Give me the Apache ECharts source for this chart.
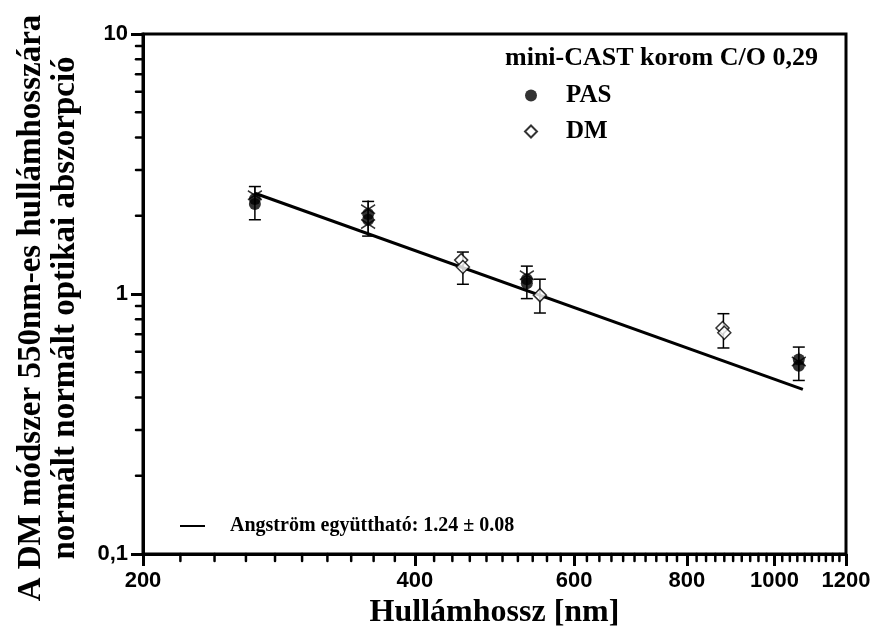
<!DOCTYPE html>
<html>
<head>
<meta charset="utf-8">
<script src="https://cdn.jsdelivr.net/npm/echarts@6/dist/echarts.min.js"></script>
<style>
  html, body { margin: 0; padding: 0; background: #ffffff; }
  #chart { width: 879px; height: 629px; }
</style>
</head>
<body>
<div id="chart"></div>
<script>
// Axis ranges and ticks (log scales)
const xRange = [200, 1200];
const yRange = [0.1, 10];
const xMajorTicks = [200, 400, 600, 800, 1000, 1200];
const xMinorTicks = [220, 240, 260, 280, 300, 320, 340, 360, 380,
                     420, 440, 460, 480, 500, 520, 540, 560, 580,
                     620, 640, 660, 680, 700, 720, 740, 760, 780,
                     820, 840, 860, 880, 900, 920, 940, 960, 980,
                     1020, 1040, 1060, 1080, 1100, 1120, 1140, 1160, 1180];
const yMajorTicks = [0.1, 1, 10];
const yMinorTicks = [0.2, 0.3, 0.4, 0.5, 0.6, 0.7, 0.8, 0.9,
                     2, 3, 4, 5, 6, 7, 8, 9];

// Photoacoustic (PAS) measurements: [wavelength nm, normalised absorption]
const pasPoints = [[266, 2.22], [266, 2.32], [355, 1.93], [355, 2.03],
                   [532, 1.10], [532, 1.14], [1064, 0.53], [1064, 0.56]];
// Repeated PAS runs (asterisk markers)
const pasRepeat = [[266, 2.40], [355, 2.12], [355, 1.86], [532, 1.18], [1064, 0.55]];
// PAS error bars: [wavelength, low, high]
const pasErrors = [[266, 1.93, 2.59], [355, 1.67, 2.27], [532, 0.96, 1.28], [1064, 0.465, 0.625]];

// DM measurements
const dmPoints = [[450, 1.35], [452, 1.27], [550, 0.99], [876, 0.74], [880, 0.71]];
const dmErrors = [[452, 1.09, 1.45], [550, 0.845, 1.14], [878, 0.62, 0.84]];

// Power-law fit (straight on log-log axes): end points
const fitLine = [[266, 2.44], [1075, 0.43]];

const seriesNames = { pas: 'PAS', dm: 'DM', fit: 'Angström együttható: 1.24 ± 0.08' };
const legendTitle = 'mini-CAST korom C/O 0,29';
const xTitle = 'Hullámhossz [nm]';
const yTitle = 'A DM módszer 550nm-es hullámhosszára\nnormált normált optikai abszorpció';

const serif = 'Liberation Serif';
const sans = 'Liberation Sans';

function errorBarItem(params, api) {
  const x = api.value(0);
  const lo = api.coord([x, api.value(1)]);
  const hi = api.coord([x, api.value(2)]);
  const half = 6;
  const style = { stroke: '#000', lineWidth: 1.5, fill: null };
  return {
    type: 'group',
    children: [
      { type: 'line', shape: { x1: lo[0], y1: lo[1], x2: hi[0], y2: hi[1] }, style: style },
      { type: 'line', shape: { x1: lo[0] - half, y1: lo[1], x2: lo[0] + half, y2: lo[1] }, style: style },
      { type: 'line', shape: { x1: hi[0] - half, y1: hi[1], x2: hi[0] + half, y2: hi[1] }, style: style }
    ]
  };
}

// Short minor ticks below the x axis and left of the y axis
const minorTickLen = 7;
function xMinorTickItem(params, api) {
  const p = api.coord([api.value(0), yRange[0]]);
  return { type: 'line', shape: { x1: p[0], y1: p[1], x2: p[0], y2: p[1] + minorTickLen },
           style: { stroke: '#000', lineWidth: 2.5, lineCap: 'round' } };
}
function yMinorTickItem(params, api) {
  const p = api.coord([xRange[0], api.value(1)]);
  return { type: 'line', shape: { x1: p[0] - minorTickLen, y1: p[1], x2: p[0], y2: p[1] },
           style: { stroke: '#000', lineWidth: 2.5, lineCap: 'round' } };
}

const asteriskPath = 'path://M0,-10L0,10M-8.66,-5L8.66,5M-8.66,5L8.66,-5';

const chart = echarts.init(document.getElementById('chart'), null, { renderer: 'canvas' });

const option = {
  backgroundColor: '#ffffff',
  animation: false,
  title: {
    text: legendTitle,
    left: 505,
    top: 45,
    padding: 0,
    textStyle: { fontFamily: serif, fontWeight: 'bold', fontSize: 26, color: '#000' }
  },
  legend: [
    {
      data: [seriesNames.pas, seriesNames.dm],
      orient: 'vertical',
      left: 524,
      top: 83,
      padding: 0,
      itemWidth: 12,
      itemHeight: 12,
      itemGap: 11,
      formatter: name => '{t|' + name + '}',
      textStyle: {
        fontFamily: serif, fontWeight: 'bold', fontSize: 25, color: '#000',
        rich: { t: { fontFamily: serif, fontWeight: 'bold', fontSize: 25, color: '#000', padding: [0, 0, 0, 24] } }
      }
    },
    {
      data: [{ name: seriesNames.fit, icon: 'rect' }],
      orient: 'horizontal',
      left: 180,
      top: 516,
      padding: 0,
      itemWidth: 25,
      itemHeight: 2,
      formatter: name => '{t|' + name + '}',
      textStyle: {
        fontFamily: serif, fontWeight: 'bold', fontSize: 20, color: '#000',
        rich: { t: { fontFamily: serif, fontWeight: 'bold', fontSize: 20, color: '#000', padding: [0, 0, 0, 20] } }
      }
    }
  ],
  grid: {
    left: 143, top: 34, width: 703, height: 520,
    outerBoundsMode: 'none',
    containLabel: false,
    show: true, borderColor: '#000', borderWidth: 3, backgroundColor: 'transparent'
  },
  xAxis: {
    type: 'log', logBase: 10, min: xRange[0], max: xRange[1], position: 'bottom',
    name: xTitle, nameLocation: 'middle', nameGap: 36,
    nameTextStyle: { fontFamily: serif, fontWeight: 'bold', fontSize: 32, color: '#000' },
    axisLine: { show: true, lineStyle: { color: '#000', width: 3 } },
    axisTick: { show: true, customValues: xMajorTicks, length: 12, inside: false, lineStyle: { color: '#000', width: 3 } },
    axisLabel: {
      show: true, customValues: xMajorTicks, margin: 16,
      fontFamily: sans, fontWeight: 'bold', fontSize: 22, color: '#000',
      formatter: v => String(v)
    },
    splitLine: { show: false }, minorTick: { show: false }
  },
  yAxis: {
    type: 'log', logBase: 10, min: yRange[0], max: yRange[1], position: 'left',
    name: yTitle, nameLocation: 'middle', nameRotate: 90, nameGap: 61,
    nameTextStyle: { fontFamily: serif, fontWeight: 'bold', fontSize: 33, lineHeight: 34, color: '#000', padding: [0, 28, 0, 0] },
    axisLine: { show: true, lineStyle: { color: '#000', width: 3 } },
    axisTick: { show: true, customValues: yMajorTicks, length: 12, inside: false, lineStyle: { color: '#000', width: 3 } },
    axisLabel: {
      show: true, customValues: yMajorTicks, margin: 15,
      fontFamily: sans, fontWeight: 'bold', fontSize: 22, color: '#000',
      formatter: v => String(v).replace('.', ',')
    },
    splitLine: { show: false }, minorTick: { show: false }
  },
  series: [
    {
      name: 'x minor ticks',
      type: 'custom',
      renderItem: xMinorTickItem,
      data: xMinorTicks.map(v => [v, yRange[0]]),
      encode: { x: 0, y: 1 },
      clip: false,
      silent: true,
      z: 10
    },
    {
      name: 'y minor ticks',
      type: 'custom',
      renderItem: yMinorTickItem,
      data: yMinorTicks.map(v => [xRange[0], v]),
      encode: { x: 0, y: 1 },
      clip: false,
      silent: true,
      z: 10
    },
    {
      name: seriesNames.fit,
      type: 'line',
      data: fitLine,
      symbol: 'none',
      lineStyle: { color: '#000', width: 3 },
      itemStyle: { color: '#000' },
      z: 1
    },
    {
      name: 'PAS hiba',
      type: 'custom',
      renderItem: errorBarItem,
      data: pasErrors,
      encode: { x: 0, y: [1, 2] },
      z: 2
    },
    {
      name: 'DM hiba',
      type: 'custom',
      renderItem: errorBarItem,
      data: dmErrors,
      encode: { x: 0, y: [1, 2] },
      z: 2
    },
    {
      name: seriesNames.pas,
      type: 'scatter',
      data: pasPoints,
      symbol: 'circle',
      symbolSize: 12,
      itemStyle: { color: '#000' },
      z: 3
    },
    {
      name: 'PAS ismétlés',
      type: 'scatter',
      data: pasRepeat,
      symbol: asteriskPath,
      symbolSize: [14, 18],
      itemStyle: { color: 'none', borderColor: '#000', borderWidth: 1.5 },
      z: 4
    },
    {
      name: seriesNames.dm,
      type: 'scatter',
      data: dmPoints,
      symbol: 'diamond',
      symbolSize: 13,
      itemStyle: { color: '#fff', borderColor: '#000', borderWidth: 1.5 },
      z: 5
    }
  ]
};

chart.setOption(option);
</script>
</body>
</html>
